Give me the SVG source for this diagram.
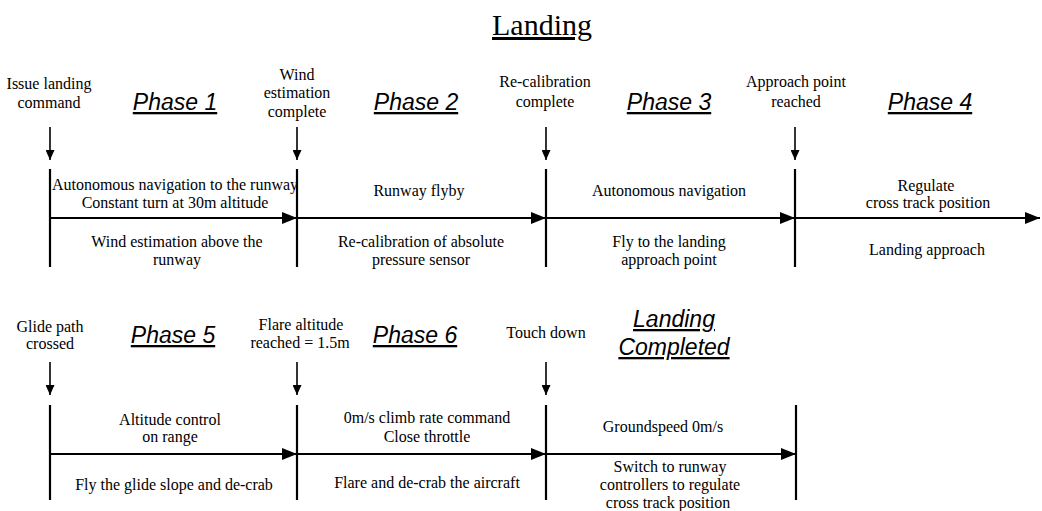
<svg xmlns="http://www.w3.org/2000/svg" width="1042" height="511" viewBox="0 0 1042 511">
<style>
.t{font-family:"Liberation Serif","Times New Roman",serif;font-size:16px;text-anchor:middle;fill:#000}
.ph{font-family:"Liberation Sans",Arial,sans-serif;font-style:italic;font-size:23px;text-anchor:middle;fill:#000;text-decoration:underline}
.ttl{font-family:"Liberation Serif","Times New Roman",serif;font-size:30px;text-anchor:middle;fill:#000;text-decoration:underline}
.bar{stroke:#000;stroke-width:2.2;fill:none}
.ax{stroke:#000;stroke-width:2.2;fill:none;marker-end:url(#tri)}
.dn{stroke:#000;stroke-width:1.6;fill:none;marker-end:url(#down)}
</style>
<defs>
<marker id="tri" viewBox="0 0 15 12" refX="15" refY="6" markerWidth="15" markerHeight="12" markerUnits="userSpaceOnUse" orient="auto"><path d="M0,0 L15,6 L0,12 z" fill="#000"/></marker>
<marker id="down" viewBox="0 0 10 9" refX="10" refY="4.5" markerWidth="10" markerHeight="9" markerUnits="userSpaceOnUse" orient="auto"><path d="M0,0 L10,4.5 L0,9 z" fill="#000"/></marker>
</defs>
<rect width="1042" height="511" fill="#fff"/>
<g id="title"><text class="ttl" x="542" y="35">Landing</text></g>

<g id="connectors">
<line class="bar" x1="50" y1="169" x2="50" y2="267"/>
<line class="bar" x1="297" y1="169" x2="297" y2="267"/>
<line class="bar" x1="546" y1="169" x2="546" y2="267"/>
<line class="bar" x1="795" y1="169" x2="795" y2="267"/>
<line class="ax" x1="50" y1="218" x2="297" y2="218"/>
<line class="ax" x1="297" y1="218" x2="546" y2="218"/>
<line class="ax" x1="546" y1="218" x2="795" y2="218"/>
<line class="ax" x1="795" y1="218" x2="1040" y2="218"/>
<line class="dn" x1="50" y1="127" x2="50" y2="160"/>
<line class="dn" x1="297" y1="127" x2="297" y2="160"/>
<line class="dn" x1="546" y1="127" x2="546" y2="160"/>
<line class="dn" x1="795" y1="127" x2="795" y2="160"/>
<line class="bar" x1="50" y1="405" x2="50" y2="500"/>
<line class="bar" x1="297" y1="405" x2="297" y2="500"/>
<line class="bar" x1="546" y1="405" x2="546" y2="500"/>
<line class="bar" x1="796" y1="405" x2="796" y2="500"/>
<line class="ax" x1="50" y1="454" x2="297" y2="454"/>
<line class="ax" x1="297" y1="454" x2="546" y2="454"/>
<line class="ax" x1="546" y1="454" x2="796" y2="454"/>
<line class="dn" x1="50" y1="362" x2="50" y2="395"/>
<line class="dn" x1="297" y1="362" x2="297" y2="395"/>
<line class="dn" x1="546" y1="362" x2="546" y2="395"/>
</g>

<g id="ev-issue"><text class="t" x="49" y="89">Issue landing</text><text class="t" x="49" y="108">command</text></g>
<g id="ev-wind"><text class="t" x="297" y="80">Wind</text><text class="t" x="297" y="98">estimation</text><text class="t" x="297" y="117">complete</text></g>
<g id="ev-recal"><text class="t" x="545" y="87">Re-calibration</text><text class="t" x="545" y="107">complete</text></g>
<g id="ev-approach"><text class="t" x="796" y="87">Approach point</text><text class="t" x="796" y="107">reached</text></g>

<g id="phase1"><text class="ph" x="175" y="110">Phase 1</text>
<text class="t" x="175" y="190">Autonomous navigation to the runway</text>
<text class="t" x="175" y="208">Constant turn at 30m altitude</text>
<text class="t" x="177" y="247">Wind estimation above the</text>
<text class="t" x="177" y="265">runway</text></g>
<g id="phase2"><text class="ph" x="416" y="110">Phase 2</text>
<text class="t" x="419" y="196">Runway flyby</text>
<text class="t" x="421" y="247">Re-calibration of absolute</text>
<text class="t" x="421" y="265">pressure sensor</text></g>
<g id="phase3"><text class="ph" x="669" y="110">Phase 3</text>
<text class="t" x="669" y="196">Autonomous navigation</text>
<text class="t" x="669" y="247">Fly to the landing</text>
<text class="t" x="669" y="265">approach point</text></g>
<g id="phase4"><text class="ph" x="930" y="110">Phase 4</text>
<text class="t" x="926" y="191">Regulate</text>
<text class="t" x="928" y="208">cross track position</text>
<text class="t" x="927" y="255">Landing approach</text></g>

<g id="ev-glide"><text class="t" x="50" y="332">Glide path</text><text class="t" x="50" y="349">crossed</text></g>
<g id="ev-flare"><text class="t" x="301" y="330">Flare altitude</text><text class="t" x="300" y="348">reached = 1.5m</text></g>
<g id="ev-touch"><text class="t" x="546" y="338">Touch down</text></g>

<g id="phase5"><text class="ph" x="173" y="343">Phase 5</text>
<text class="t" x="170" y="425">Altitude control</text>
<text class="t" x="170" y="442">on range</text>
<text class="t" x="174" y="490">Fly the glide slope and de-crab</text></g>
<g id="phase6"><text class="ph" x="415" y="343">Phase 6</text>
<text class="t" x="427" y="423">0m/s climb rate command</text>
<text class="t" x="427" y="442">Close throttle</text>
<text class="t" x="427" y="488">Flare and de-crab the aircraft</text></g>
<g id="completed"><text class="ph" x="674" y="327">Landing</text><text class="ph" x="674" y="355">Completed</text>
<text class="t" x="663" y="432">Groundspeed 0m/s</text>
<text class="t" x="670" y="472">Switch to runway</text>
<text class="t" x="670" y="490">controllers to regulate</text>
<text class="t" x="668" y="508">cross track position</text></g>
</svg>
